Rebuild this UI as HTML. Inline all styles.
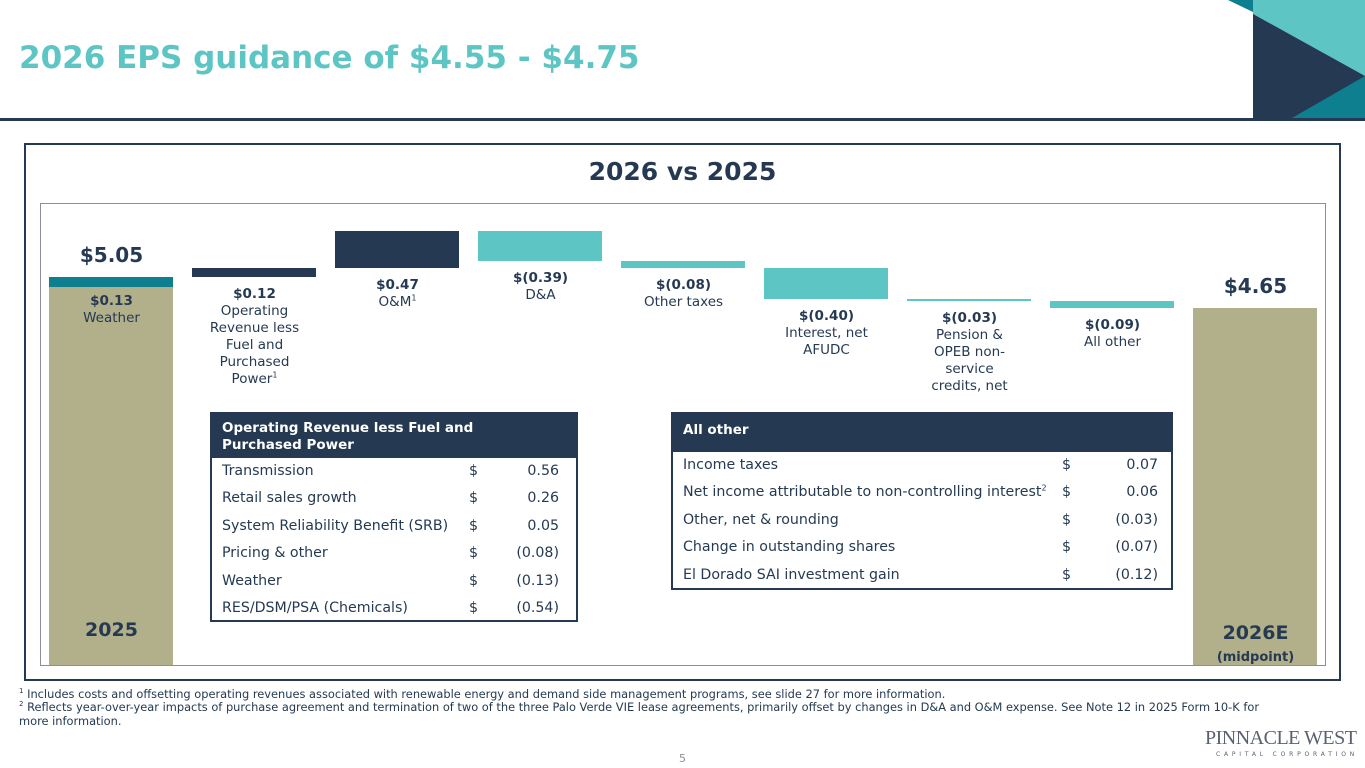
<!DOCTYPE html>
<html><head><meta charset="utf-8"><style>
*{margin:0;padding:0;box-sizing:border-box}
body{width:1365px;height:768px;background:#fff;position:relative;overflow:hidden;font-family:"DejaVu Sans","Liberation Sans",sans-serif;color:#253a52}
.abs{position:absolute}
sup{line-height:0}
#title{left:19px;top:40px;font-size:31px;font-weight:bold;color:#5ec5c5;letter-spacing:0}
.lbl{position:absolute;width:143px;text-align:center;font-size:13.5px;line-height:17px;color:#253a52}
.tbl{position:absolute;border:2px solid #253a52;background:#fff;font-size:14.2px}
.tbl .hd{background:#253a52;color:#fff;font-weight:bold;padding:6px 10px 0 10px;font-size:13.5px;line-height:17px}
.tbl .row{position:relative;height:27.4px;line-height:27px;padding-left:10px;white-space:nowrap}
.tbl .row .d{position:absolute;top:0}
.tbl .row .v{position:absolute;top:0;text-align:right}
.fn{position:absolute;left:19px;font-size:11.4px;color:#253a52;line-height:14px}
</style></head><body>
<div id="title" class="abs">2026 EPS guidance of $4.55 - $4.75</div>
<div class="abs" style="left:0;top:118px;width:1365px;height:3px;background:#253a52"></div>
<svg class="abs" style="left:1220px;top:0" width="145" height="120">
<polygon points="8,0 33,0 33,12" fill="#0d7f8f"/>
<rect x="33" y="0" width="112" height="118" fill="#5ec5c5"/>
<polygon points="33,14 145,76 145,118 33,118" fill="#253a52"/>
<polygon points="145,76 145,118 72,118" fill="#0d7f8f"/>
</svg>
<div class="abs" style="left:24px;top:143px;width:1317px;height:538px;border:2px solid #253a52"></div>
<div class="abs" style="left:0;top:157px;width:1365px;text-align:center;font-size:25px;font-weight:bold;color:#253a52">2026 vs 2025</div>
<div class="abs" style="left:40px;top:203px;width:1286px;height:463px;border:1px solid #8a8f99"></div>
<div id="chart"></div>

<div class="tbl" style="left:210px;top:412px;width:368px;height:210px">
<div class="hd" style="height:44px">Operating Revenue less Fuel and<br>Purchased Power</div>
<div id="t1"></div>
</div>
<div class="tbl" style="left:671px;top:412px;width:502px;height:178px">
<div class="hd" style="height:38px;padding-top:8px">All other</div>
<div id="t2"></div>
</div>

<div class="fn" style="top:687px;white-space:nowrap"><sup style="font-size:7px">1</sup> Includes costs and offsetting operating revenues associated with renewable energy and demand side management programs, see slide 27 for more information.</div>
<div class="fn" style="top:700px;width:1270px"><sup style="font-size:7px">2</sup> Reflects year-over-year impacts of purchase agreement and termination of two of the three Palo Verde VIE lease agreements, primarily offset by changes in D&amp;A and O&amp;M expense. See Note 12 in 2025 Form 10-K for more information.</div>
<div class="abs" style="left:0;top:752px;width:1365px;text-align:center;font-size:11px;color:#8a8f99">5</div>
<div class="abs" style="left:1205px;top:727px;font-family:'Liberation Serif',serif;font-size:20px;color:#5a6170;white-space:nowrap;letter-spacing:-0.5px">PINNACLE WEST</div>
<div class="abs" style="left:1216px;top:751px;font-size:6px;color:#5a6170;letter-spacing:3.8px;white-space:nowrap">CAPITAL CORPORATION</div>

<script>
const categories=["2025","Operating Revenue less Fuel and Purchased Power","O&M","D&A","Other taxes","Interest, net AFUDC","Pension & OPEB non-service credits, net","All other","2026E"];
const startValue=5.05;
const deltas=[0.12,0.47,-0.39,-0.08,-0.40,-0.03,-0.09];
const endValue=4.65;
const weatherValue=0.13;
const valueLabels=["$0.13","$0.12","$0.47","$(0.39)","$(0.08)","$(0.40)","$(0.03)","$(0.09)"];
const descLabels=[["Weather"],["Operating","Revenue less","Fuel and","Purchased","Power<sup style='font-size:8px'>1</sup>"],["O&amp;M<sup style='font-size:8px'>1</sup>"],["D&amp;A"],["Other taxes"],["Interest, net","AFUDC"],["Pension &amp;","OPEB non-","service","credits, net"],["All other"]];
const t1Labels=["Transmission","Retail sales growth","System Reliability Benefit (SRB)","Pricing & other","Weather","RES/DSM/PSA (Chemicals)"];
const t1Values=["0.56","0.26","0.05","(0.08)","(0.13)","(0.54)"];
const t2Labels=["Income taxes","Net income attributable to non-controlling interest²","Other, net & rounding","Change in outstanding shares","El Dorado SAI investment gain"];
const t2Values=["0.07","0.06","(0.03)","(0.07)","(0.12)"];

const pxPer=78, zeroY=277+5.05*78, clipY=665;
const y=v=>zeroY-v*pxPer;
const x=i=>49+i*143;
const bw=124;
const chart=document.getElementById('chart');
function box(l,t,w,h,c){const d=document.createElement('div');d.className='abs';d.style.cssText=`left:${l}px;top:${t}px;width:${w}px;height:${h}px;background:${c}`;chart.appendChild(d);return d;}
let b=box(x(0),y(startValue),bw,clipY-y(startValue),'#b1b08a');


let w=box(x(0),y(startValue),bw,y(startValue-weatherValue)-y(startValue),'#0d7f8f');


let cum=startValue;
const bottoms=[];
deltas.forEach((d,i)=>{
  const a=cum,bb=cum+d;cum=bb;
  const top=y(Math.max(a,bb)),bot=y(Math.min(a,bb));
  const e=box(x(i+1),top,bw,Math.max(bot-top,2),d>=0?'#253a52':'#5ec5c5');
  
  
  bottoms.push(bot);
});
let e2=box(x(8),y(endValue),bw,clipY-y(endValue),'#b1b08a');


function txt(l,t,html,cls,style){const d=document.createElement('div');d.className=cls||'lbl';d.style.cssText=`left:${l}px;top:${t}px;`+(style||'');d.innerHTML=html;chart.appendChild(d);return d;}
valueLabels.forEach((v,i)=>{
  const top=i===0?y(startValue-weatherValue)+6:bottoms[i-1]+9;
  const el=txt(x(i)-9,top,'<b>'+v+'</b><br>'+descLabels[i].join('<br>'));
  
  
});
let s=txt(x(0)-9,y(startValue)-30,'$'+startValue.toFixed(2),'lbl','font-size:20px;font-weight:bold');


let en=txt(x(8)-9,y(endValue)-30,'$'+endValue.toFixed(2),'lbl','font-size:20px;font-weight:bold');


let c1=txt(x(0)-9,622,'2025','lbl','font-size:19px;font-weight:bold');


let c2=txt(x(8)-9,622,'2026E<br><span style="font-size:13px">(midpoint)</span>','lbl','font-size:19px;font-weight:bold;line-height:22px');


function fill(id,labels,vals,dx,vx){
  const t=document.getElementById(id);
  labels.forEach((l,i)=>{
    const r=document.createElement('div');r.className='row';
    
    
    r.innerHTML=`<span>${l.replace('&','&amp;').replace('²','<sup style="font-size:8px">2</sup>')}</span><span class="d" style="left:${dx}px">$</span><span class="v" style="left:${vx}px;width:60px">${vals[i]}</span>`;
    t.appendChild(r);
  });
}
fill('t1',t1Labels,t1Values,257,287);
fill('t2',t2Labels,t2Values,389,425);
</script>
</body></html>
